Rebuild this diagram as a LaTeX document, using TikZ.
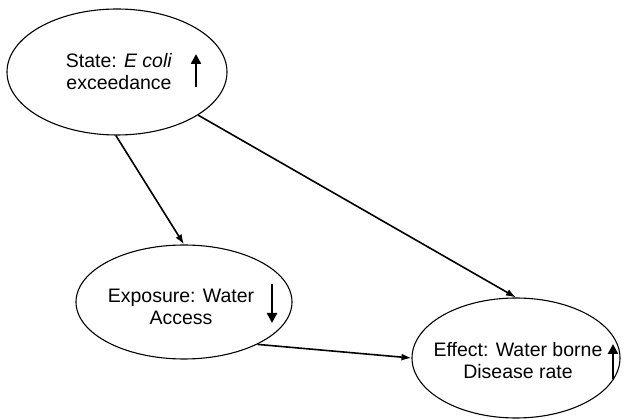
\documentclass[tikz,border=0pt]{standalone}
\usepackage{fontspec}
\setmainfont{Liberation Sans}
\usetikzlibrary{shapes.geometric,arrows.meta}
\begin{document}
\begin{tikzpicture}[x=1pt,y=-1pt,
  oval/.style={draw,ellipse,line width=1.1pt,inner sep=0pt},
  lbl/.style={align=center,font=\fontsize{19.5}{22}\selectfont,inner sep=0pt},
  conn/.style={line width=1.6pt,-{Latex[length=10pt,width=7pt]}},
  trend/.style={line width=2.4pt,-{Triangle[length=10pt,width=10pt]}}]
\useasboundingbox (0,0) rectangle (624,419);
\node[oval,minimum width=220,minimum height=126] (state) at (117,72) {};
\node[oval,minimum width=216,minimum height=114] (exp) at (184,302) {};
\node[oval,minimum width=208,minimum height=120] (eff) at (516,358) {};
\node[lbl] (tstate) at (119,72) {State: \textit{E coli}\\exceedance};
\node[lbl] (texp) at (181,307) {Exposure: Water\\Access};
\node[lbl] (teff) at (518,361) {Effect: Water borne\\Disease rate};
\coordinate (a1s) at (196,87); \coordinate (a1e) at (196,54);
\coordinate (a2s) at (272,284); \coordinate (a2e) at (272,323);
\coordinate (a3s) at (613,379); \coordinate (a3e) at (613,344);
\draw[trend] (a1s) -- (a1e);
\draw[trend] (a2s) -- (a2e);
\draw[trend] (a3s) -- (a3e);
\draw[conn] (state.-91) -- (exp.north);
\draw[conn] (state.-28) -- (eff.north);
\draw[conn] (exp.-30) -- (eff.west);
\end{tikzpicture}
\end{document}
